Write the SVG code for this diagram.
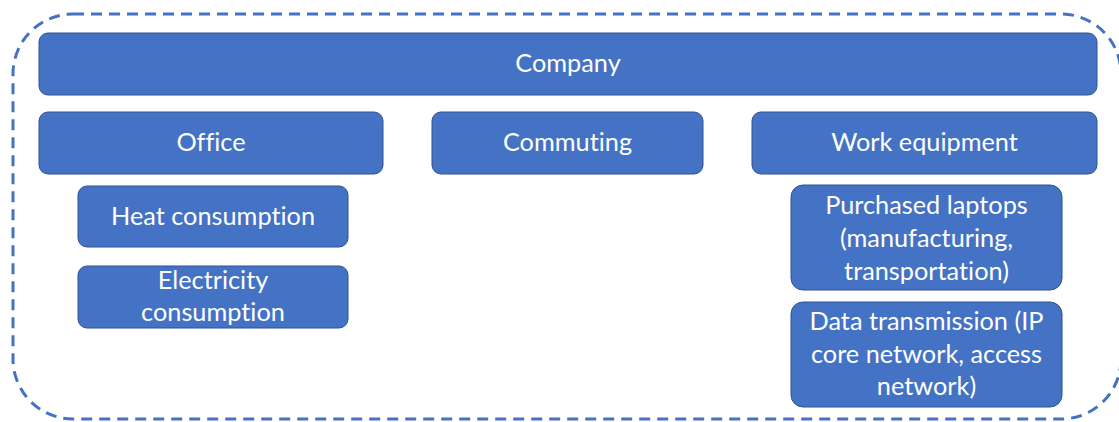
<svg xmlns="http://www.w3.org/2000/svg" width="1119" height="422" viewBox="0 0 1119 422">
  <style>
    .box { fill: #4472C4; stroke: #2F528F; stroke-width: 1; }
    .label { fill: #FFFFFF; font-family: Lato, "Open Sans", "Liberation Sans", sans-serif; font-size: 25.3px; text-anchor: middle; font-variant-ligatures: none; font-feature-settings: "liga" 0; }
    .boundary { fill: none; stroke: #4472C4; stroke-width: 3; stroke-dasharray: 11 7; }
  </style>
  <rect width="1119" height="422" fill="#FFFFFF"/>

  <!-- scope boundary -->
  <g id="boundary">
    <rect class="boundary" x="13" y="14" width="1108" height="405" rx="60" ry="60"/>
  </g>

  <g id="connectors"></g>

  <g id="company">
    <rect class="box" x="39" y="33" width="1058" height="62" rx="9"/>
    <text class="label" x="568" y="72">Company</text>
  </g>

  <g id="office">
    <rect class="box" x="39" y="112" width="344" height="62" rx="9"/>
    <text class="label" x="211" y="151">Office</text>
  </g>

  <g id="commuting">
    <rect class="box" x="432" y="112" width="271" height="62" rx="9"/>
    <text class="label" x="567.5" y="151">Commuting</text>
  </g>

  <g id="work-equipment">
    <rect class="box" x="752" y="112" width="345" height="62" rx="9"/>
    <text class="label" x="924.5" y="151">Work equipment</text>
  </g>

  <g id="heat">
    <rect class="box" x="78" y="186" width="270" height="61" rx="9"/>
    <text class="label" x="213" y="225">Heat consumption</text>
  </g>

  <g id="electricity">
    <rect class="box" x="78" y="266" width="270" height="62" rx="9"/>
    <text class="label" x="213" y="289">Electricity</text>
    <text class="label" x="213" y="321">consumption</text>
  </g>

  <g id="laptops">
    <rect class="box" x="791" y="185" width="271" height="105" rx="12"/>
    <text class="label" x="926.5" y="214">Purchased laptops</text>
    <text class="label" x="926.5" y="247">(manufacturing,</text>
    <text class="label" x="926.5" y="280">transportation)</text>
  </g>

  <g id="data-transmission">
    <rect class="box" x="791" y="302" width="271" height="105" rx="12"/>
    <text class="label" x="926.5" y="330">Data transmission (IP</text>
    <text class="label" x="926.5" y="363">core network, access</text>
    <text class="label" x="926.5" y="395">network)</text>
  </g>
</svg>
